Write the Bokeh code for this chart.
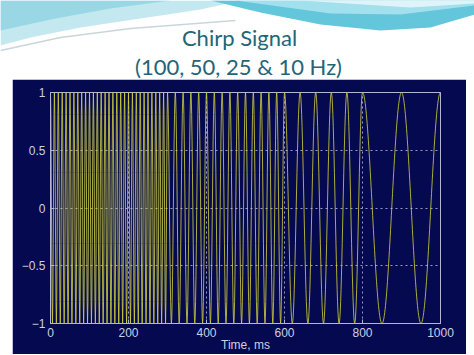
import numpy as np
from bokeh.plotting import figure
from bokeh.layouts import column, row
from bokeh.models import Range1d, FixedTicker, Spacer
from bokeh.core.properties import value
from bokeh.embed import file_html
from bokeh.resources import INLINE

# ---- data ----
title_lines = ["Chirp Signal", "(100, 50, 25 & 10 Hz)"]
seg_freq_hz = [100, 50, 25, 10]
seg_start_ms = [0, 300, 600, 800]
seg_end_ms = [300, 600, 800, 1000]
sample_step_ms = 1
x_ticks = [0, 200, 400, 600, 800, 1000]
y_ticks = [-1.0, -0.5, 0.0, 0.5, 1.0]
y_tick_labels = ["\u22121", "\u22120.5", "0", "0.5", "1"]
x_label = "Time, ms"

# signal built from the segment definitions (cosine at each segment's frequency)
t = np.arange(seg_start_ms[0], seg_end_ms[-1] + sample_step_ms, sample_step_ms)
freq = np.zeros_like(t, dtype=float)
for f, a, b in zip(seg_freq_hz, seg_start_ms, seg_end_ms):
    freq[(t >= a) & (t <= b)] = f
sig = np.cos(2 * np.pi * freq * t / 1000.0)

# ---- styles ----
NAVY = "#05094f"
YELLOW = "#d6d63a"
AXIS = "#b4b4d4"
LABEL = "#cfcfe0"
GRID = "#9a9ac4"
TEAL_TEXT = "#236478"

# ---- header (slide title area) ----
head = figure(width=474, height=79, x_range=Range1d(0, 474), y_range=Range1d(79, 0),
              toolbar_location=None, output_backend="svg", title=None,
              x_axis_type=None, y_axis_type=None, min_border=0,
              outline_line_color=None, background_fill_color="white",
              border_fill_color="white")

# decorative swooshes
head.patch([0, 240, 200, 140, 80, 30, 0], [0, 0, 9, 18, 27, 37, 45],
           fill_color="#c4e8f0", line_color=None)
head.patch([0, 170, 110, 55, 0], [0, 0, 8, 18, 30],
           fill_color="#8fd2e2", line_color=None, fill_alpha=0.8)
head.line([0, 60, 130, 235], [50, 37, 28, 20], line_color="#c9d6d9", line_width=1.5)
head.patch([210, 474, 474, 430, 380, 320, 260], [0, 0, 14, 27, 30, 24, 12],
           fill_color="#63c6da", line_color=None)
head.patch([235, 474, 474, 400, 330], [0, 0, 5, 14, 13],
           fill_color="#a9e2ee", line_color=None, fill_alpha=0.9)
head.patch([300, 474, 474, 410], [0, 0, 3, 7],
           fill_color="#e6f6fa", line_color=None, fill_alpha=0.9)

head.text(x=[239], y=[37], text=[title_lines[0]], text_font=value("Lato"),
          text_font_size="22px", text_color=TEAL_TEXT, text_align="center",
          text_baseline="middle")
head.text(x=[238], y=[66], text=[title_lines[1]], text_font=value("Lato"),
          text_font_size="22px", text_color=TEAL_TEXT, text_align="center",
          text_baseline="middle")

# ---- main plot ----
p = figure(width=454, height=275, x_range=Range1d(0, 1000), y_range=Range1d(-1, 1),
           toolbar_location=None, output_backend="svg", title=None,
           min_border_left=38, min_border_right=26, min_border_top=13,
           min_border_bottom=31, background_fill_color=NAVY,
           border_fill_color=NAVY, outline_line_color=AXIS)

p.line(t, sig, line_color=YELLOW, line_width=1, line_alpha=0.8)

p.xaxis.ticker = FixedTicker(ticks=x_ticks)
p.yaxis.ticker = FixedTicker(ticks=y_ticks)
p.yaxis.major_label_overrides = dict(zip(y_ticks, y_tick_labels))
for ax in (p.xaxis, p.yaxis):
    ax.axis_line_color = AXIS
    ax.major_tick_line_color = AXIS
    ax.major_tick_in = 4
    ax.major_tick_out = 0
    ax.minor_tick_line_color = None
    ax.major_label_text_color = LABEL
    ax.major_label_text_font = "Liberation Sans"
    ax.major_label_text_font_size = "12px"
p.xaxis.major_label_standoff = 4
p.yaxis.major_label_standoff = 5
p.xaxis.axis_label = x_label
p.xaxis.axis_label_text_font = "Liberation Sans"
p.xaxis.axis_label_text_font_size = "12px"
p.xaxis.axis_label_text_font_style = "normal"
p.xaxis.axis_label_text_color = LABEL
p.xaxis.axis_label_standoff = -2

p.grid.grid_line_color = GRID
p.grid.grid_line_dash = "2 3"
p.grid.grid_line_width = 1

layout = column(head, row(Spacer(width=12, height=275), p))

open("out.html", "w").write(file_html(layout, INLINE))
